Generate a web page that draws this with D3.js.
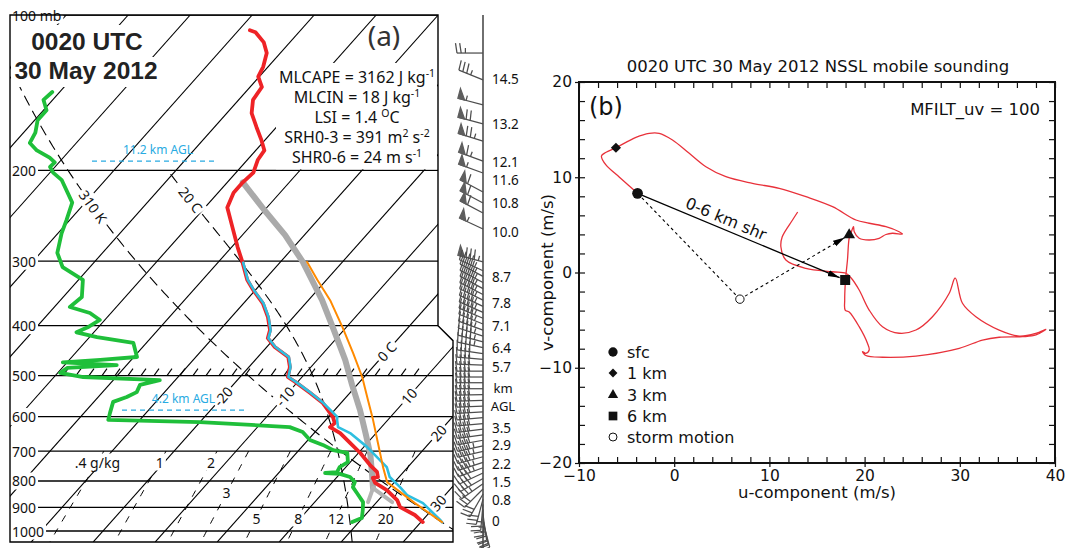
<!DOCTYPE html>
<html>
<head>
<meta charset="utf-8">
<script src="https://cdn.jsdelivr.net/npm/d3@7"></script>
<style>
  body { margin: 0; background: #fff; }
  svg { display: block; }
  .sk text { font-family: "Noto Sans", sans-serif; fill: #111; }
  .ho text { font-family: "DejaVu Sans", sans-serif; fill: #111; }
</style>
</head>
<body>
<svg id="chart" width="1067" height="548"></svg>
<script>
"use strict";

// ---- sounding: temperature (mb, C) ----
var tempP = [107,108,113,118.5,126,131.6,137.9,146,155,165,175,183,191,202,211,221,236,258,282,302,326,341,362,385,408,423,440,460,481,503,514,540,565,601,618,629,646,675,706,745,768,786,789,807,833,871,899,931,961];
var tempC = [-68.2,-67.0,-64.2,-62.2,-60.8,-60.2,-58.1,-57.7,-56.0,-53.2,-50.5,-48.6,-48.3,-47.2,-47.5,-47.5,-46.4,-42.7,-39.0,-36.0,-32.8,-30.4,-26.9,-24.1,-21.9,-21.1,-18.7,-15.1,-13.4,-12.3,-10.4,-6.4,-2.9,0.7,1.9,1.7,4.2,7.2,10.3,13.6,15.7,16.6,15.9,17.0,19.9,23.0,24.5,28.0,30.3];

// virtual temperature
var tvP = [302,326,341,362,385,408,423,440,460,481,503,514,540,565,601,609,629,646,687,752,786,822,852,883,952,961];
var tvC = [-35.9,-32.7,-30.3,-26.8,-24.0,-21.8,-21.0,-18.6,-15.0,-13.3,-12.2,-10.3,-6.3,-2.8,1.4,1.8,3.0,5.8,10.5,16.6,18.5,21.6,23.9,27.6,32.8,33.4];

// dewpoint
var dewP = [141,146,153,160,169,177,183,189,193,197,202,209,231,250,265,289,308,326,352,368,378,390,403,412,421,432,460,466,471,477,483,494,503,510,521,538,550,562,591,609,615,629,643,666,681,697,706,735,752,769,772,775,786,804,822,844,879,911,944,961];
var dewC = [-91.2,-91.5,-89.5,-89.5,-88.1,-87.5,-85.3,-82.2,-80.7,-80.8,-79.5,-77.0,-72.1,-70.5,-69.4,-67.3,-64.4,-59.3,-57.0,-57.5,-53.4,-50.8,-51.7,-52.8,-48.8,-42.1,-39.5,-45.0,-50.7,-41.6,-49.2,-49.6,-45.3,-32.5,-35.0,-34.5,-35.4,-36.9,-35.8,-35.1,-20.0,-4.8,-2.0,0.3,3.1,5.5,8.2,9.6,9.0,9.3,7.5,10.0,12.1,13.6,14.0,15.5,17.8,18.9,19.9,18.9];

// surface based parcel (orange)
var sbParcelP = [961,883,804,752,675,609,557,503,452,403,357,326,301];
var sbParcelC = [33.4,26.3,18.8,16.0,11.7,7.6,3.9,-0.3,-5.2,-10.6,-16.5,-21.5,-25.7];

// mixed layer parcel (gray)
var mlParcelP = [826,762,712,651,583,521,466,408,357,301,267,239,211];
var mlParcelC = [17.4,14.6,12.2,8.6,4.1,-0.8,-5.5,-11.6,-17.8,-26.4,-33.1,-40.0,-47.5];
var mlDryP = [879,826], mlDryC = [22.5,17.4];
var mlWetP = [879,826], mlWetC = [18.6,17.4];

// wind barbs (mb, deg, kt)
var windP = [118.5,133.6,149.4,162.6,175.5,191.9,202.4,220.3,231.4,242,259.8,301,313,321,330,339,348,357,367,377,387,397,408,419,430,441,453,465,477,490,503,516,530,544,558,573,588,603,619,635,651,667,684,701,718,736,754,772,791,810,829,848,868,888,908,929,950,961];
var windDir = [270,292,285,285,287,290,290,298,298,298,295,285,295,298,298,298,297,296,295,294,293,292,290,288,285,282,278,275,272,270,270,270,270,269,268,268,267,265,265,263,262,260,258,257,255,252,250,245,240,235,225,210,195,185,178,172,168,165];
var windKt = [25,35,55,70,75,65,55,60,60,60,55,85,45,45,45,45,45,45,45,45,45,45,45,45,45,45,40,40,40,40,40,40,40,40,40,40,40,40,40,40,40,40,45,45,45,45,45,42,38,35,32,30,28,27,26,24,20,18];
var heightKm = ["14.5","13.2","12.1","11.6","10.8","10.0","8.7","7.8","7.1","6.4","5.7","3.5","2.9","2.2","1.5","0.8","0"];
var heightP = [133,163,193,209,231,263,322,362,401,442,481,631,681,742,804,871,956];

// diagram reference lines
var isobarP = [100,200,300,400,500,600,700,800,900,1000];
var isothermT = d3.range(-110, 50, 10);
var isoLabelT = [-20,-10,0,10,20,30];
var isoLabelP = [548,548,449,548,645,882];
var isoLabelTxt = ["-20","-10","0 C","10","20","30"];
var dryTheta = 310, moistThetaW = 20;
var mixW = [0.4,1,2,3,5,8,12,20];
var mixLabelP = [735,735,735,844,944,944,944,944];
var mixLabelTxt = [".4 g/kg","1","2","3","5","8","12","20"];
var aglKm = ["11.2 km AGL","4.2 km AGL"];
var aglP = [192,583];

var indices = [
  ["MLCAPE = 3162 J kg", "-1", ""],
  ["MLCIN = 18 J kg", "-1", ""],
  ["LSI = 1.4 ", "O", "C"],
  ["SRH0-3 = 391 m", "2", " s", "-2"],
  ["SHR0-6 = 24 m s", "-1", ""]
];

// ---- hodograph (m/s) ----
var hodoU = [-3.85,-5.78,-7.17,-7.64,-7.35,-6.12,-4.02,-2.63,-1.58,-0.18,1.58,3.33,5.43,8.22,11.03,13.83,16.63,19.09,20.48,22.24,23.63,23.98,22.93,22.24,21.53,20.48,19.43,18.91,18.83,18.56,18.38,18.2,18.04,17.96,17.91,17.96,18.38,19.43,20.3,20.48,20.13,19.78,20.13,21.88,25.39,29.94,32.38,34.14,36.59,38.0,39.04,38.0,36.24,34.14,31.69,30.28,29.52,28.89,27.13,25.39,23.63,21.88,20.48,19.43,18.59,18.04,16.63,13.83,11.73,11.21,11.34,12.43,12.97];
var hodoV = [8.31,10.03,11.29,12.23,12.51,13.10,14.19,14.61,14.61,13.91,12.51,11.11,10.06,9.36,8.84,7.96,6.91,5.51,5.17,4.81,4.28,4.04,4.12,3.99,3.59,3.41,3.59,4.28,4.81,4.12,3.62,1.31,-0.26,-1.31,-2.89,-3.94,-4.15,-5.69,-7.43,-8.14,-8.48,-8.31,-8.71,-8.90,-8.77,-7.96,-7.09,-6.80,-6.74,-6.56,-5.96,-6.38,-6.67,-6.04,-4.64,-3.23,-0.58,-2.18,-4.64,-6.04,-6.38,-5.69,-3.94,-1.84,-0.58,-0.08,0.08,0.44,1.31,2.68,3.73,5.51,6.35];
var levelName = ["sfc","1 km","3 km","6 km"];
var levelU = [-3.85,-6.12,18.38,17.96];
var levelV = [8.31,13.1,3.94,-0.79];
var stormU = 6.9, stormV = -2.8;
var uTicks = [-10,0,10,20,30,40];
var vTicks = [-20,-10,0,10,20];

var svg = d3.select("#chart");
var defs = svg.append("defs");

// ================= skew-T =================
var yS = d3.scaleLog().domain([100, 1000]).range([15, 531]);
var tS = d3.scaleLinear().domain([0, 10]).range([227, 289]);   // temperature along 1000 mb
var skew = 0.89;
function sx(t, p) { return tS(t) + skew * (yS(1000) - yS(p)); }
var pTop = 100, pBot = 1050;
var frameL = 10, frameR1 = 438, frameR2 = 453;
var yKink = yS(400);
var framePts = [[frameL, yS(pTop)], [frameR1, yS(pTop)], [frameR1, yKink], [frameR2, yKink + 15], [frameR2, yS(pBot)], [frameL, yS(pBot)]];

defs.append("clipPath").attr("id", "frameClip").append("polygon")
  .attr("points", framePts.map(function (d) { return d.join(","); }).join(" "));

var sk = svg.append("g").attr("class", "sk");
var grid = sk.append("g").attr("clip-path", "url(#frameClip)");

// isotherms
grid.selectAll(".iso").data(isothermT).enter().append("line")
  .attr("x1", function (t) { return sx(t, pBot); }).attr("y1", yS(pBot))
  .attr("x2", function (t) { return sx(t, pTop); }).attr("y2", yS(pTop))
  .attr("stroke", "#000").attr("stroke-width", 1.1);

// isobars
grid.selectAll(".isobar").data(isobarP).enter().append("line")
  .attr("x1", frameL).attr("x2", frameR2 + 2)
  .attr("y1", function (p) { return yS(p); }).attr("y2", function (p) { return yS(p); })
  .attr("stroke", "#000").attr("stroke-width", 1.3);

var skLine = d3.line().x(function (d) { return sx(d[1], d[0]); }).y(function (d) { return yS(d[0]); });
function zipPT(P, T) { return P.map(function (p, i) { return [p, T[i]]; }); }

// dry adiabat
var dryPts = d3.range(pBot, 99, -5).map(function (p) { return [p, dryTheta * Math.pow(p / 1000, 0.2857) - 273.15]; });
grid.append("path").attr("d", skLine(dryPts)).attr("fill", "none")
  .attr("stroke", "#000").attr("stroke-width", 1.1).attr("stroke-dasharray", "11,6");

// moist adiabat
function satMix(p, tc) { var es = 6.112 * Math.exp(17.67 * tc / (tc + 243.5)); return 0.622 * es / (p - es); }
function moistLapse(p, tc) {
  var T = tc + 273.15, rs = satMix(p, tc);
  return (287.04 * T + 2.501e6 * rs) / (p * (1005.7 + 2.501e6 * 2.501e6 * rs * 0.622 / (287.04 * T * T)));
}
function moistCurve(tw, pStop) {
  var up = [[1000, tw]], p = 1000, t = tw, h = -2;
  while (p + h >= pStop) {
    var k1 = moistLapse(p, t), k2 = moistLapse(p + h / 2, t + k1 * h / 2);
    t += k2 * h; p += h; up.push([p, t]);
  }
  var down = [], p2 = 1000, t2 = tw;
  while (p2 < pBot) {
    var m1 = moistLapse(p2, t2), m2 = moistLapse(p2 + 1, t2 + m1);
    t2 += m2 * 2; p2 += 2; down.push([p2, t2]);
  }
  return down.reverse().concat(up);
}
var moistPts = moistCurve(moistThetaW, 200);
grid.append("path").attr("d", skLine(moistPts)).attr("fill", "none")
  .attr("stroke", "#000").attr("stroke-width", 1.1).attr("stroke-dasharray", "11,6");

// mixing ratio lines
function mixTd(w, p) { var e = (w / 1000) * p / (0.622 + w / 1000); var l = Math.log(e / 6.112); return 243.5 * l / (17.67 - l); }
mixW.forEach(function (w) {
  var pts = d3.range(700, pBot + 1, 10).map(function (p) { return [p, mixTd(w, p)]; });
  grid.append("path").attr("d", skLine(pts)).attr("fill", "none")
    .attr("stroke", "#000").attr("stroke-width", 1).attr("stroke-dasharray", "7,8");
});

// 500 mb hatching
var y500 = yS(500);
d3.range(63, 423, 13).forEach(function (x) {
  grid.append("line").attr("x1", x).attr("y1", y500).attr("x2", x + 5).attr("y2", y500 - 7)
    .attr("stroke", "#000").attr("stroke-width", 1.1);
});

// labels sitting on the lines, each on a white box
var labels = sk.append("g");
function boxedText(x, y, angle, str, size, anchor) {
  var g = labels.append("g").attr("transform", "translate(" + x + "," + y + ") rotate(" + angle + ")");
  var rect = g.append("rect").attr("fill", "#fff");
  var t = g.append("text").attr("text-anchor", anchor || "middle").attr("dominant-baseline", "central")
    .attr("font-size", size).text(str);
  var b = t.node().getBBox();
  rect.attr("x", b.x - 2).attr("y", b.y + 1).attr("width", b.width + 4).attr("height", b.height - 2);
  return g;
}
var isoAngle = Math.atan2(-1, skew) * 180 / Math.PI;
isoLabelT.forEach(function (t, i) {
  boxedText(sx(t, isoLabelP[i]), yS(isoLabelP[i]), isoAngle, isoLabelTxt[i], 14);
});
function nearest(pts, p) {
  return pts.reduce(function (best, d) { return Math.abs(d[0] - p) < Math.abs(best[0] - p) ? d : best; });
}
function curveLabel(pts, p, str) {
  var a = nearest(pts, p);
  var pa = [p - 8, p + 8].map(function (q) {
    var n = nearest(pts, q);
    return [sx(n[1], n[0]), yS(n[0])];
  });
  var ang = Math.atan2(pa[1][1] - pa[0][1], pa[1][0] - pa[0][0]) * 180 / Math.PI;
  boxedText(sx(a[1], a[0]), yS(a[0]), ang, str, 14);
}
curveLabel(dryPts, 233, "310 K");
curveLabel(moistPts, 228, "20 C");
mixW.forEach(function (w, i) {
  boxedText(sx(mixTd(w, mixLabelP[i]), mixLabelP[i]), yS(mixLabelP[i]), 0, mixLabelTxt[i], 14);
});
isobarP.forEach(function (p) {
  boxedText(12, yS(p), 0, p === 100 ? "100 mb" : String(p), 14, "start");
});

// white panels behind the title and the index text
sk.append("rect").attr("x", 28).attr("y", 25).attr("width", 120).attr("height", 32).attr("fill", "#fff");
sk.append("rect").attr("x", 11).attr("y", 57).attr("width", 150).attr("height", 30).attr("fill", "#fff");
sk.append("rect").attr("x", 276).attr("y", 63).attr("width", 161).attr("height", yS(200) - 64).attr("fill", "#fff");

// frame
sk.append("polygon").attr("points", framePts.map(function (d) { return d.join(","); }).join(" "))
  .attr("fill", "none").attr("stroke", "#000").attr("stroke-width", 1.4);

// sounding traces
var traces = sk.append("g").attr("clip-path", "url(#frameClip)").attr("fill", "none")
  .attr("stroke-linejoin", "round").attr("stroke-linecap", "round");
traces.append("path").attr("d", skLine(zipPT(mlParcelP, mlParcelC))).attr("stroke", "#aaaaaa").attr("stroke-width", 6);
traces.append("path").attr("d", skLine(zipPT(mlDryP, mlDryC))).attr("stroke", "#b4b4b4").attr("stroke-width", 4);
traces.append("path").attr("d", skLine(zipPT(mlWetP, mlWetC))).attr("stroke", "#b4b4b4").attr("stroke-width", 4);
traces.append("path").attr("d", skLine(zipPT(dewP, dewC))).attr("stroke", "#1fbf3a").attr("stroke-width", 3.8);
traces.append("path").attr("d", skLine(zipPT(tempP, tempC))).attr("stroke", "#ee2326").attr("stroke-width", 3.8);
traces.append("path").attr("d", skLine(zipPT(tvP, tvC))).attr("stroke", "#2ebfe0").attr("stroke-width", 2.6);
traces.append("path").attr("d", skLine(zipPT(sbParcelP, sbParcelC))).attr("stroke", "#ff8a00").attr("stroke-width", 2);

// AGL markers
aglP.forEach(function (p, i) {
  var y = yS(p);
  var x0 = i === 0 ? 92 : 122, x1 = i === 0 ? 218 : 245;
  sk.append("line").attr("x1", x0).attr("x2", x1).attr("y1", y).attr("y2", y)
    .attr("stroke", "#29abe2").attr("stroke-width", 1.3).attr("stroke-dasharray", "5,4");
  sk.append("text").attr("x", (x0 + x1) / 2 + (i === 0 ? 3 : 0)).attr("y", y - 7).attr("text-anchor", "middle")
    .attr("font-size", 12).style("fill", "#29abe2").text(aglKm[i]);
});

// titles and indices
sk.append("text").attr("x", 87).attr("y", 50).attr("text-anchor", "middle")
  .style("font-family", "'Liberation Sans', Arial, sans-serif").attr("font-weight", "bold").attr("font-size", 24.5).style("fill", "#222").text("0020 UTC");
sk.append("text").attr("x", 86).attr("y", 79).attr("text-anchor", "middle")
  .style("font-family", "'Liberation Sans', Arial, sans-serif").attr("font-weight", "bold").attr("font-size", 24.5).style("fill", "#222").text("30 May 2012");
sk.append("text").attr("x", 384).attr("y", 46).attr("text-anchor", "middle").attr("font-size", 28).style("fill", "#333").text("(a)");

indices.forEach(function (row, i) {
  var t = sk.append("text").attr("x", 357).attr("y", 83 + i * 20).attr("text-anchor", "middle").attr("font-size", 16);
  t.append("tspan").text(row[0]);
  t.append("tspan").attr("dy", -6).attr("font-size", 10.5).text(row[1]);
  t.append("tspan").attr("dy", 6).text(row[2]);
  if (row.length > 3) t.append("tspan").attr("dy", -6).attr("font-size", 10.5).text(row[3]);
});

// wind barbs
var staffX = 483;
var barbs = sk.append("g").attr("stroke", "#4d4d4d").attr("stroke-width", 1.25);
barbs.append("line").attr("x1", staffX).attr("x2", staffX).attr("y1", 15).attr("y2", 548).attr("stroke", "#333").attr("stroke-width", 1.4);
function drawBarb(y0, dir, kt) {
  var a = dir * Math.PI / 180;
  var dx = Math.sin(a), dy = -Math.cos(a);
  var px = Math.sin(a + Math.PI / 2), py = -Math.cos(a + Math.PI / 2);
  var L = 26, B = 10, step = 4.2;
  function at(s) { return [staffX + dx * s, y0 + dy * s]; }
  var tip = at(L);
  barbs.append("line").attr("x1", staffX).attr("y1", y0).attr("x2", tip[0]).attr("y2", tip[1]);
  var s = Math.round(kt / 5) * 5;
  var flags = Math.floor(s / 50), full = Math.floor((s % 50) / 10), half = (s % 10) >= 5 ? 1 : 0;
  var t = L, k;
  for (k = 0; k < flags; k++) {
    var p0 = at(t), p1 = at(t - 7);
    barbs.append("polygon").attr("points", [p0, [p0[0] + px * B, p0[1] + py * B], p1].map(function (d) { return d.join(","); }).join(" "))
      .attr("fill", "#5e5e5e").attr("stroke", "#5e5e5e");
    t -= 8.5;
  }
  for (k = 0; k < full; k++) {
    var q = at(t);
    barbs.append("line").attr("x1", q[0]).attr("y1", q[1]).attr("x2", q[0] + px * B + dx * 1.5).attr("y2", q[1] + py * B + dy * 1.5);
    t -= step;
  }
  if (half) {
    if (t === L) t -= step;
    var h = at(t);
    barbs.append("line").attr("x1", h[0]).attr("y1", h[1]).attr("x2", h[0] + px * B / 2).attr("y2", h[1] + py * B / 2);
  }
}
windP.forEach(function (p, i) { drawBarb(yS(p), windDir[i], windKt[i]); });

heightKm.forEach(function (h, i) {
  sk.append("text").attr("x", 492).attr("y", yS(heightP[i])).attr("dominant-baseline", "central")
    .attr("font-size", 13.5).text(h);
});
sk.append("text").attr("x", 503).attr("y", 393).attr("text-anchor", "middle").attr("font-size", 13).text("km");
sk.append("text").attr("x", 503).attr("y", 411).attr("text-anchor", "middle").attr("font-size", 13).text("AGL");

// ================= hodograph =================
var ho = svg.append("g").attr("class", "ho");
var xH = d3.scaleLinear().domain([-10, 40]).range([579, 1055]);
var yH = d3.scaleLinear().domain([-20, 20]).range([463, 82]);
var minorU = d3.range(-10, 41, 2), minorV = d3.range(-20, 21, 2);

function tickAxis(axis, tx, ty) {
  var g = ho.append("g").attr("transform", "translate(" + tx + "," + ty + ")").call(axis);
  g.select(".domain").remove();
  g.selectAll("line").attr("stroke", "#111").attr("stroke-width", 1.2);
  g.attr("font-family", "DejaVu Sans").attr("font-size", 15.5);
  g.selectAll("text").style("fill", "#111");
  return g;
}
tickAxis(d3.axisBottom(xH).tickValues(minorU).tickSize(-6).tickSizeOuter(0).tickFormat(""), 0, 463);
tickAxis(d3.axisTop(xH).tickValues(minorU).tickSize(-6).tickSizeOuter(0).tickFormat(""), 0, 82);
tickAxis(d3.axisLeft(yH).tickValues(minorV).tickSize(-6).tickSizeOuter(0).tickFormat(""), 579, 0);
tickAxis(d3.axisRight(yH).tickValues(minorV).tickSize(-6).tickSizeOuter(0).tickFormat(""), 1055, 0);
tickAxis(d3.axisBottom(xH).tickValues(uTicks).tickSize(4).tickSizeOuter(0).tickPadding(3), 0, 463);
tickAxis(d3.axisLeft(yH).tickValues(vTicks).tickSize(4).tickSizeOuter(0).tickPadding(3), 579, 0);

ho.append("rect").attr("x", 579).attr("y", 82).attr("width", 1055 - 579).attr("height", 463 - 82)
  .attr("fill", "none").attr("stroke", "#111").attr("stroke-width", 2);

ho.append("text").attr("x", 818).attr("y", 72).attr("text-anchor", "middle").attr("font-size", 16.5)
  .text("0020 UTC 30 May 2012 NSSL mobile sounding");
ho.append("text").attr("x", 817).attr("y", 498).attr("text-anchor", "middle").attr("font-size", 16.5).text("u-component (m/s)");
ho.append("text").attr("transform", "translate(553," + yH(0) + ") rotate(-90)").attr("text-anchor", "middle")
  .attr("font-size", 16.5).text("v-component (m/s)");
ho.append("text").attr("x", 589).attr("y", 115).attr("font-size", 24).text("(b)");
ho.append("text").attr("x", 1040).attr("y", 115).attr("text-anchor", "end").attr("font-size", 16.5).text("MFILT_uv = 100");

var hodoLine = d3.line().x(function (d) { return xH(d[0]); }).y(function (d) { return yH(d[1]); })
  .curve(d3.curveCatmullRom.alpha(0.5));
ho.append("path").attr("d", hodoLine(hodoU.map(function (u, i) { return [u, hodoV[i]]; })))
  .attr("fill", "none").attr("stroke", "#e8313a").attr("stroke-width", 1.3);

defs.append("marker").attr("id", "arr").attr("viewBox", "0 -4 12 8").attr("refX", 12).attr("refY", 0)
  .attr("markerWidth", 12).attr("markerHeight", 8).attr("markerUnits", "userSpaceOnUse").attr("orient", "auto")
  .append("path").attr("d", "M0,-3.2L12,0L0,3.2Z").attr("fill", "#000");

function segment(u0, v0, u1, v1, cut) {
  var x0 = xH(u0), y0 = yH(v0), x1 = xH(u1), y1 = yH(v1);
  var len = Math.hypot(x1 - x0, y1 - y0);
  return [x0, y0, x1 - (x1 - x0) / len * cut, y1 - (y1 - y0) / len * cut];
}
var sfcU = levelU[0], sfcV = levelV[0];
var s1 = segment(stormU, stormV, sfcU, sfcV, 0);
ho.append("line").attr("x1", s1[0]).attr("y1", s1[1]).attr("x2", s1[2]).attr("y2", s1[3])
  .attr("stroke", "#000").attr("stroke-width", 1.1).attr("stroke-dasharray", "3,3");
var s2 = segment(stormU, stormV, levelU[2], levelV[2], 5);
ho.append("line").attr("x1", s2[0]).attr("y1", s2[1]).attr("x2", s2[2]).attr("y2", s2[3])
  .attr("stroke", "#000").attr("stroke-width", 1.1).attr("stroke-dasharray", "3,3").attr("marker-end", "url(#arr)");
var s3 = segment(sfcU, sfcV, levelU[3], levelV[3], 6);
ho.append("line").attr("x1", s3[0]).attr("y1", s3[1]).attr("x2", s3[2]).attr("y2", s3[3])
  .attr("stroke", "#000").attr("stroke-width", 1.3).attr("marker-end", "url(#arr)");

// shear label
var ang = Math.atan2(s3[3] - s3[1], s3[2] - s3[0]);
var ux = Math.cos(ang), uy = Math.sin(ang);
var mx = (s3[0] + s3[2]) / 2 - 18 * ux + 5 * uy, my = (s3[1] + s3[3]) / 2 - 18 * uy - 5 * ux;
ho.append("text").attr("transform", "translate(" + mx + "," + my + ") rotate(" + ang * 180 / Math.PI + ")")
  .attr("text-anchor", "middle").attr("font-size", 16).text("0-6 km shr");

// level markers: circle, diamond (rotated square), triangle, square
function levelMark(i, x, y, scale) {
  if (i === 1) {
    return ho.append("rect").attr("x", -3.6 * scale).attr("y", -3.6 * scale).attr("width", 7.2 * scale).attr("height", 7.2 * scale)
      .attr("transform", "translate(" + x + "," + y + ") rotate(45)").attr("fill", "#111");
  }
  var types = [d3.symbolCircle, null, d3.symbolTriangle, d3.symbolSquare];
  var sizes = [90, 0, 60, 100];
  return ho.append("path").attr("d", d3.symbol().type(types[i]).size(sizes[i] * scale * scale)())
    .attr("transform", "translate(" + x + "," + y + ")").attr("fill", "#111");
}
levelName.forEach(function (n, i) { levelMark(i, xH(levelU[i]), yH(levelV[i]), 1); });
ho.append("circle").attr("cx", xH(stormU)).attr("cy", yH(stormV)).attr("r", 4.2)
  .attr("fill", "#fff").attr("stroke", "#111").attr("stroke-width", 1);

// legend
var legendY = [352, 373, 395, 416, 437];
levelName.concat(["storm motion"]).forEach(function (n, i) {
  if (i < 4) {
    levelMark(i, 613, legendY[i], 0.87);
  } else {
    ho.append("circle").attr("cx", 613).attr("cy", legendY[i]).attr("r", 4)
      .attr("fill", "#fff").attr("stroke", "#111").attr("stroke-width", 1);
  }
  ho.append("text").attr("x", 627).attr("y", legendY[i] + 6).attr("font-size", 16).text(n);
});
</script>
</body>
</html>
